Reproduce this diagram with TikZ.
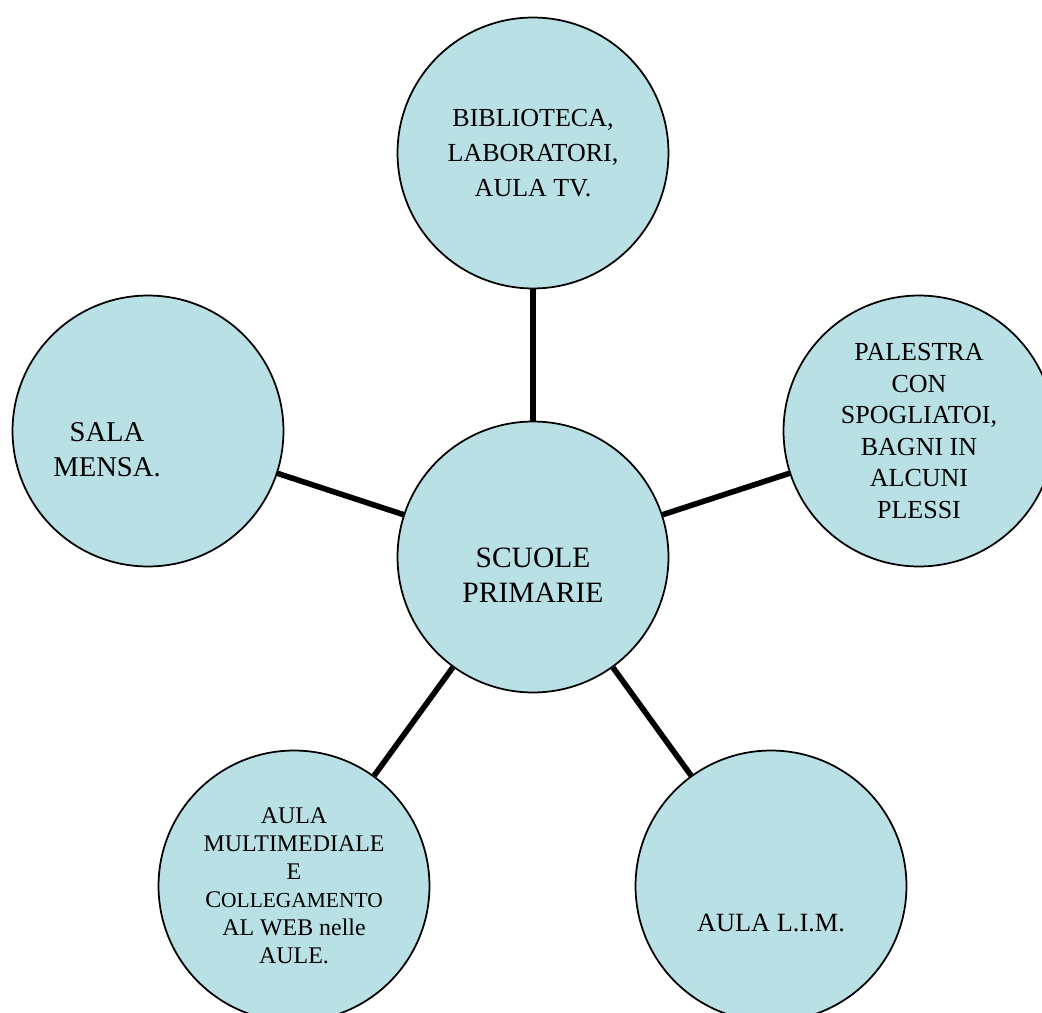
\documentclass[tikz,border=0pt]{standalone}
\usepackage{fontspec}
\setmainfont{Liberation Serif}
\definecolor{bubblefill}{RGB}{185,224,228}
\begin{document}
\begin{tikzpicture}[x=0.02cm,y=-0.02cm,
  bubble/.style={draw, circle, fill=bubblefill, line width=1pt, minimum size=5.42cm, inner sep=0pt, align=center},
  spoke/.style={line width=3.2pt},
  txt/.style={align=center, inner sep=0pt}]
\useasboundingbox (0,0) rectangle (1042,1013);

\node[bubble] (SP) at (533,557) {};
\node[bubble, font=\fontsize{14.8}{19.9}\selectfont] (BIB) at (533,153) {BIBLIOTECA,\\LABORATORI,\\AULA TV.};
\node[bubble, font=\fontsize{14.8}{17.9}\selectfont] (PAL) at (919,431) {PALESTRA\\CON\\SPOGLIATOI,\\BAGNI IN\\ALCUNI\\PLESSI};
\node[bubble] (MEN) at (148,431) {};
\node[bubble, font=\fontsize{13.6}{15.9}\selectfont] (MUL) at (294,886) {AULA\\MULTIMEDIALE\\E\\C{\fontsize{12.2}{15.9}\selectfont OLLEGAMENTO}\\AL WEB nelle\\AULE.};
\node[bubble] (LIM) at (771,886) {};

\node[txt, font=\fontsize{16.8}{19.9}\selectfont] (SPtxt) at ([shift={(0,18)}]SP.center) {SCUOLE\\PRIMARIE};
\node[txt, font=\fontsize{16.3}{20}\selectfont] (MENtxt) at ([shift={(-41,19)}]MEN.center) {SALA\\MENSA.};
\node[txt, font=\fontsize{15}{18}\selectfont] (LIMtxt) at ([shift={(0,37)}]LIM.center) {AULA L.I.M.};

\draw[spoke] (SP) -- (BIB);
\draw[spoke] (SP) -- (PAL);
\draw[spoke] (SP) -- (MEN);
\draw[spoke] (SP) -- (MUL);
\draw[spoke] (SP) -- (LIM);
\end{tikzpicture}
\end{document}
